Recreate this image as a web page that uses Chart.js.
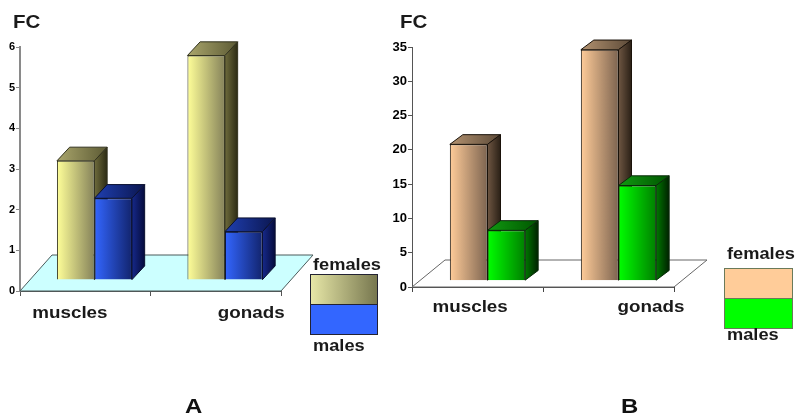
<!doctype html>
<html lang="en">
  <head>
    <meta charset="UTF-8" />
    <title>FC muscles and gonads</title>
    <script src="https://cdn.jsdelivr.net/npm/chart.js"></script>
    <style>
      html, body { margin: 0; padding: 0; background: #fff; overflow: hidden; }
      .box { position: absolute; top: 0; height: 415px; }
    </style>
  </head>
  <body>
    <div class="box" style="left: 0; width: 385px"><canvas id="chartA"></canvas></div>
    <div class="box" style="left: 385px; width: 410px"><canvas id="chartB"></canvas></div>
    <script>
      const categories = ['muscles', 'gonads']
      const seriesNames = ['females', 'males']

      const femalesA = [3.2, 5.79]
      const malesA = [2.28, 1.46]
      const ticksA = [0, 1, 2, 3, 4, 5, 6]

      const femalesB = [20.8, 34.6]
      const malesB = [8.26, 14.8]
      const ticksB = [0, 5, 10, 15, 20, 25, 30, 35]

      const stretch = 1.14

      // text is a bit wider than the font in the original
      const wideText = (ctx, text, x, y, size, color, sx = stretch) => {
        ctx.save()
        ctx.font = `bold ${size}px "Liberation Sans"`
        ctx.fillStyle = color
        ctx.textBaseline = 'alphabetic'
        ctx.textAlign = 'left'
        ctx.translate(x, y)
        ctx.scale(sx, 1)
        ctx.fillText(text, 0, 0)
        ctx.restore()
      }

      const hGrad = (ctx, x0, x1, c0, c1) => {
        const g = ctx.createLinearGradient(x0, 0, x1, 0)
        g.addColorStop(0, c0)
        g.addColorStop(1, c1)
        return g
      }

      const poly = (ctx, pts, fill, stroke) => {
        ctx.beginPath()
        pts.forEach((p, i) => (i ? ctx.lineTo(p[0], p[1]) : ctx.moveTo(p[0], p[1])))
        ctx.closePath()
        ctx.fillStyle = fill
        ctx.fill()
        ctx.lineWidth = 1
        ctx.strokeStyle = stroke
        ctx.stroke()
      }

      const makeChart = (id, females, males, ticks, o) => {
        const catPct = 0.575
        const canvas = document.getElementById(id)
        canvas.width = o.width
        canvas.height = 415

        const depthPlugin = {
          id: 'depth',
          beforeDatasetsDraw(chart) {
            const { ctx, chartArea: a } = chart
            poly(
              ctx,
              [
                [a.left, a.bottom],
                [a.left + o.floor[0], a.bottom - o.floor[1]],
                [a.right + o.floor[0], a.bottom - o.floor[1]],
                [a.right, a.bottom]
              ],
              o.floorFill,
              o.floorLine
            )
            ctx.save()
            ctx.translate(o.shift, 0)
            // tops and sides first, the library paints the front faces over them
            chart.data.datasets.forEach((ds, i) => {
              const st = o.styles[i]
              chart.getDatasetMeta(i).data.forEach((bar) => {
                const l = bar.x - bar.width / 2
                const r = bar.x + bar.width / 2
                const [dx, dy] = o.depth
                poly(
                  ctx,
                  [[l, bar.y], [l + dx, bar.y - dy], [r + dx, bar.y - dy], [r, bar.y]],
                  hGrad(ctx, l, r + dx, st.top[0], st.top[1]),
                  st.line
                )
                poly(
                  ctx,
                  [[r, bar.y], [r + dx, bar.y - dy], [r + dx, bar.base - dy], [r, bar.base]],
                  hGrad(ctx, r, r + dx, st.side[0], st.side[1]),
                  st.line
                )
              })
            })
          },
          afterDatasetsDraw(chart) {
            const { ctx, scales } = chart
            ctx.restore()
            categories.forEach((c, i) => {
              wideText(ctx, c, scales.x.getPixelForValue(i) + o.labelShift[i], o.labelY, 16.5, '#1a1a1a')
            })
            wideText(ctx, 'FC', o.fc[0], o.fc[1], 18, '#1a1a1a')
            wideText(ctx, o.letter, o.letterPos[0], o.letterPos[1], 21, '#111')

            const [lx, ly, lw, lh] = o.swatch
            ctx.fillStyle = hGrad(ctx, lx, lx + lw, o.legendFill[0], o.legendFill[1])
            ctx.fillRect(lx, ly, lw, lh)
            ctx.strokeStyle = o.legendLine
            ctx.lineWidth = 1
            ctx.strokeRect(lx + 0.5, ly + 0.5, lw, lh)
            ctx.fillStyle = o.styles[1].legend
            ctx.fillRect(lx, ly + lh, lw, lh)
            ctx.strokeRect(lx + 0.5, ly + lh + 0.5, lw, lh)
            wideText(ctx, seriesNames[0], o.legendText[0], o.legendText[1], 16, '#1a1a1a')
            wideText(ctx, seriesNames[1], o.legendText[0], o.legendText[2], 16, '#1a1a1a')
          }
        }

        const faceColor = (i) => (context) => {
          const x = context.chart.scales.x
          const c = x && context.dataIndex !== undefined ? x.getPixelForValue(context.dataIndex) : NaN
          if (!Number.isFinite(c) || !x.width) return o.styles[i].front[0]
          const half = (x.width / categories.length) * catPct * 0.5
          const x0 = i === 0 ? c - half : c
          return hGrad(context.chart.ctx, x0, x0 + half, o.styles[i].front[0], o.styles[i].front[1])
        }

        const dataset = (name, values, i) => ({
          label: name,
          data: values,
          base: o.base,
          backgroundColor: faceColor(i),
          borderColor: o.styles[i].line,
          borderWidth: 1,
          barPercentage: 1,
          categoryPercentage: catPct,
          clip: false
        })

        return new Chart(canvas, {
          type: 'bar',
          data: {
            labels: categories,
            datasets: [dataset(seriesNames[0], females, 0), dataset(seriesNames[1], males, 1)]
          },
          plugins: [depthPlugin],
          options: {
            responsive: false,
            animation: false,
            events: [],
            layout: { padding: { top: o.top, right: o.width - o.right, left: 0, bottom: 0 } },
            plugins: { legend: { display: false }, tooltip: { enabled: false } },
            scales: {
              x: {
                grid: { offset: true, drawOnChartArea: false, tickLength: 5, color: o.axisColor },
                border: { color: o.axisColor, width: 1 },
                ticks: { display: false },
                afterFit: (s) => { s.height = 415 - o.bottom }
              },
              y: {
                min: 0,
                max: ticks[ticks.length - 1],
                afterBuildTicks: (s) => { s.ticks = ticks.map((v) => ({ value: v })) },
                grid: { drawOnChartArea: false, tickLength: 4, color: o.yAxisColor },
                border: { color: o.yAxisColor, width: o.yAxisWidth },
                ticks: {
                  color: '#000',
                  padding: 1,
                  font: { family: 'Liberation Sans', size: o.tickSize, weight: 'bold' }
                },
                afterFit: (s) => { s.width = o.left }
              }
            }
          }
        })
      }

      makeChart('chartA', femalesA, malesA, ticksA, {
        width: 385,
        left: 20, right: 281, top: 47, bottom: 291,
        base: 0.28, shift: 9.2, depth: [12.7, 13.7], floor: [32, 36],
        floorFill: '#ccffff', floorLine: '#4a5a5a',
        axisColor: '#555', yAxisColor: '#8a8a8a', yAxisWidth: 2, tickSize: 11,
        labelShift: [-53, 2], labelY: 318,
        fc: [13, 28], letter: 'A', letterPos: [185, 413],
        swatch: [310, 274, 67, 30],
        legendFill: ['#e8e8a8', '#77774f'], legendLine: '#223',
        legendText: [313, 270, 351],
        styles: [
          { front: ['#ffff99', '#85825a'], top: ['#aaa66c', '#5c5a34'], side: ['#6e6b3c', '#2c2b14'], line: '#33331f' },
          { front: ['#3366ff', '#12246e'], top: ['#1f3fb0', '#0b1650'], side: ['#16298a', '#050b3c'], line: '#0a1030', legend: '#3366ff' }
        ]
      })

      makeChart('chartB', femalesB, malesB, ticksB, {
        width: 410,
        left: 27, right: 289, top: 47, bottom: 287,
        base: 1, shift: 10, depth: [13, 9.7], floor: [33, 27],
        floorFill: '#ffffff', floorLine: '#666',
        axisColor: '#444', yAxisColor: '#555', yAxisWidth: 1, tickSize: 13,
        labelShift: [-45, 9], labelY: 312,
        fc: [15, 28], letter: 'B', letterPos: [236, 413],
        swatch: [339, 268, 68, 30],
        legendFill: ['#ffcc99', '#ffcc99'], legendLine: '#6a7a5a',
        legendText: [342, 259, 340],
        styles: [
          { front: ['#ffcc99', '#7d6450'], top: ['#b39270', '#5c4a38'], side: ['#6e5642', '#2a2016'], line: '#1a120a' },
          { front: ['#00ff00', '#008000'], top: ['#119911', '#005500'], side: ['#007700', '#002200'], line: '#0a2a0a', legend: '#00ff00' }
        ]
      })
    </script>
  </body>
</html>
